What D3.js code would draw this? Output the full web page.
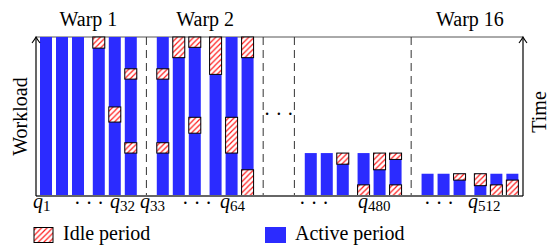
<!DOCTYPE html>
<html>
<head>
<meta charset="utf-8">
<script src="https://cdn.jsdelivr.net/npm/d3@7"></script>
<style>
  body { margin: 0; background: #fff; }
  text { font-family: "Liberation Serif", "DejaVu Serif", serif; }
</style>
</head>
<body>
<svg id="chart" width="549" height="246"></svg>
<script>
// data: workload of every query in a warp (0..100) and its idle intervals [from, to]
var warpNames = ["Warp 1", "Warp 2", "", "Warp 16"];
var warpWorkload = [100, 100, 27, 14];

var warp1Idle = [[], [], [], [[93, 100]], [[46.5, 56]], [[73.5, 80], [27, 33.5]]];
var warp2Idle = [[[73.5, 80], [27, 33.5]], [[87, 100]], [[93.5, 100], [39.5, 49.5]],
                 [[76.5, 100]], [[27, 49.5]], [[87, 100], [0, 16.5]]];
var warp15Idle = [[], [], [[20, 27]], [[0, 7]], [[16.5, 27]], [[23, 27], [0, 7]]];
var warp16Idle = [[], [], [[10, 14]], [[6.5, 14]], [[0, 7]], [[0, 10]]];
var warpIdle = [warp1Idle, warp2Idle, warp15Idle, warp16Idle];

var tickLabels = [["q", "1"], ["…", ""], ["q", "32"], ["q", "33"], ["…", ""], ["q", "64"],
                  ["…", ""], ["q", "480"], ["…", ""], ["q", "512"]];
var legendItems = ["Idle period", "Active period"];

// layout
var BLUE = "#2b2bff";
var FONT = "'Liberation Serif', 'DejaVu Serif', serif";
var svg = d3.select("#chart");
var top_ = 37, base = 196, left = 36, right = 523;

var x = d3.scaleLinear().domain([0, 30.44]).range([left, right]);
var y = d3.scaleLinear().domain([0, 100]).range([base, top_]);

var slotOffset = [0, 1, 2, 3.3, 4.3, 5.3];
var barW = 0.75;
function warpStart(i) { return i * 7.3 + (i >= 2 ? 1.95 : 0) + 0.25; }

// hatch pattern
var defs = svg.append("defs");
var pat = defs.append("pattern")
    .attr("id", "hatch")
    .attr("patternUnits", "userSpaceOnUse")
    .attr("width", 5.5).attr("height", 5.5);
pat.append("rect").attr("width", 5.5).attr("height", 5.5).attr("fill", "white");
pat.append("path")
    .attr("d", "M-1,1 l2,-2 M0,5.5 l5.5,-5.5 M4.5,6.5 l2,-2")
    .attr("stroke", "#ff1a1a").attr("stroke-width", 1.2);

// frame lines
svg.append("line").attr("x1", left).attr("x2", right).attr("y1", top_).attr("y2", top_)
    .attr("stroke", "#555").attr("stroke-width", 1);

// dashed separators
var seps = [warpStart(1), warpStart(1) + 7.3, warpStart(2), warpStart(3)];
svg.append("g").selectAll("line").data(seps).enter().append("line")
    .attr("x1", function (d) { return x(d - 0.65); })
    .attr("x2", function (d) { return x(d - 0.65); })
    .attr("y1", top_).attr("y2", base)
    .attr("stroke", "#333").attr("stroke-width", 1)
    .attr("stroke-dasharray", "8,5");

// bars
warpWorkload.forEach(function (w, i) {
    var g = svg.append("g");
    var queries = warpIdle[i];
    g.selectAll("rect.active").data(queries).enter().append("rect")
        .attr("class", "active")
        .attr("x", function (d, j) { return x(warpStart(i) + slotOffset[j]); })
        .attr("width", x(barW) - x(0))
        .attr("y", y(w))
        .attr("height", y(0) - y(w))
        .attr("fill", BLUE);
    queries.forEach(function (idle, j) {
        g.selectAll(null).data(idle).enter().append("rect")
            .attr("x", x(warpStart(i) + slotOffset[j]))
            .attr("width", x(barW) - x(0))
            .attr("y", function (d) { return y(d[1]); })
            .attr("height", function (d) { return y(d[0]) - y(d[1]); })
            .attr("fill", "url(#hatch)")
            .attr("stroke", "black").attr("stroke-width", 1);
    });
    if (warpNames[i]) {
        svg.append("text")
            .attr("x", x(warpStart(i) + (slotOffset[5] + barW) / 2))
            .attr("y", 26)
            .attr("text-anchor", "middle")
            .attr("font-family", FONT)
            .attr("font-size", 20)
            .text(warpNames[i]);
    }
});

// bottom line
svg.append("line").attr("x1", left).attr("x2", right).attr("y1", base).attr("y2", base)
    .attr("stroke", "#666").attr("stroke-width", 2);

// axis arrows
function arrow(xp) {
    svg.append("line").attr("x1", xp).attr("x2", xp).attr("y1", base).attr("y2", top_ + 0.5)
        .attr("stroke", "black").attr("stroke-width", 1.2);
    svg.append("path")
        .attr("d", "M" + (xp - 4) + "," + (top_ + 6) + " Q" + (xp - 1) + "," + (top_ + 2) + " " + xp + "," + top_ +
            " Q" + (xp + 1) + "," + (top_ + 2) + " " + (xp + 4) + "," + (top_ + 6))
        .attr("fill", "none").attr("stroke", "black").attr("stroke-width", 1.1);
}
arrow(left);
arrow(right);

// middle ellipsis
svg.append("text")
    .attr("x", (x(warpStart(1) + 7.3 - 0.65) + x(warpStart(2) - 0.65)) / 2)
    .attr("y", 121)
    .attr("text-anchor", "middle")
    .attr("font-family", FONT)
    .attr("font-size", 20)
    .text("· · ·");

// axis titles
svg.append("text")
    .attr("transform", "translate(27," + (top_ + base) / 2 + ") rotate(-90)")
    .attr("text-anchor", "middle").attr("font-size", 20).attr("font-family", FONT)
    .text("Workload");
svg.append("text")
    .attr("transform", "translate(546,112) rotate(-90)")
    .attr("text-anchor", "middle").attr("font-size", 20).attr("font-family", FONT)
    .text("Time");

// tick labels (left edge of each label)
var tickX = [33, 74, 110, 140, 182, 220, 299, 358, 424, 468];
var tg = svg.append("g");
tickLabels.forEach(function (t, k) {
    var txt = tg.append("text").attr("x", tickX[k]).attr("y", 208)
        .attr("font-family", FONT).attr("font-size", 20);
    if (t[0] === "…") {
        txt.attr("y", 210).text("· · ·");
    } else {
        txt.append("tspan").attr("font-style", "italic").text(t[0]);
        txt.append("tspan").attr("font-size", 15).attr("dy", 3).text(t[1]);
    }
});

// legend
var lg = svg.append("g");
lg.append("rect").attr("x", 34).attr("y", 227.5).attr("width", 19).attr("height", 15)
    .attr("fill", "url(#hatch)").attr("stroke", "black").attr("stroke-width", 1);
lg.append("text").attr("x", 63).attr("y", 240).attr("font-family", FONT)
    .attr("font-size", 20).text(legendItems[0]);
lg.append("rect").attr("x", 265).attr("y", 227).attr("width", 21).attr("height", 16)
    .attr("fill", BLUE);
lg.append("text").attr("x", 295).attr("y", 240).attr("font-family", FONT)
    .attr("font-size", 20).text(legendItems[1]);
</script>
</body>
</html>
